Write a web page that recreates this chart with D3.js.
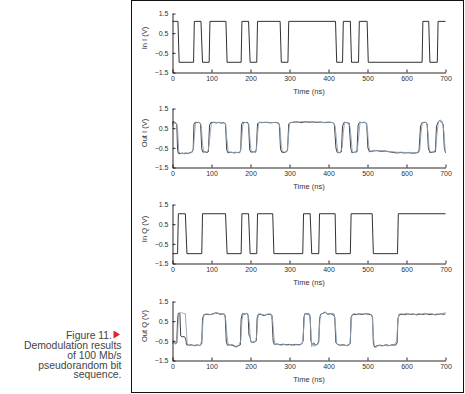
<!DOCTYPE html>
<html><head><meta charset="utf-8">
<script src="https://cdn.jsdelivr.net/npm/d3@7"></script>
<style>body{margin:0;background:#fff}</style>
</head><body>
<svg id="c" width="465" height="394"></svg>
<script>
// ---------- DATA ----------
const xTicks = [0, 100, 200, 300, 400, 500, 600, 700];
const yTicks = [-1.5, -0.5, 0.5, 1.5];
const yLabels = ["In I (V)", "Out I (V)", "In Q (V)", "Out Q (V)"];
const xLabel = "Time (ns)";
const captionLines = ["Figure 11.", "Demodulation results", "of 100 Mb/s", "pseudorandom bit", "sequence."];

const inI = [[0,1.1],[14,1.1],[17,-0.98],[54,-0.98],[56,1.1],[73,1.1],[77,-0.98],[94,-0.98],[96,1.1],[137,1.1],[140,-0.98],[176,-0.98],[178,1.1],[195,1.1],[199,-0.98],[216,-0.98],[218,1.1],[276,1.1],[279,-0.98],[296,-0.98],[298,1.1],[418,1.1],[421,-0.98],[436,-0.98],[438,1.1],[456,1.1],[459,-0.98],[477,-0.98],[479,1.1],[499,1.1],[502,-0.98],[640,-0.98],[642,1.1],[657,1.1],[660,-0.98],[679,-0.98],[681,1.1],[700,1.1]];

const outIDark = [[0,0.72],[2,0.85],[4,0.78],[8,0.75],[11,0.7],[13,-0.6],[15,-0.78],[20,-0.8],[25,-0.76],[30,-0.8],[35,-0.77],[40,-0.79],[45,-0.74],[50,-0.72],[53,-0.6],[55,0.7],[58,0.8],[63,0.78],[68,0.8],[72,0.72],[75,-0.55],[78,-0.72],[83,-0.7],[88,-0.74],[92,-0.7],[95,0.65],[98,0.78],[105,0.8],[112,0.77],[118,0.79],[125,0.76],[132,0.78],[136,0.7],[139,-0.6],[142,-0.75],[150,-0.72],[158,-0.76],[165,-0.73],[172,-0.75],[175,-0.6],[177,0.7],[180,0.8],[186,0.78],[192,0.8],[195,0.7],[198,-0.6],[201,-0.72],[207,-0.7],[213,-0.72],[215,-0.55],[218,0.72],[222,0.8],[230,0.78],[240,0.8],[250,0.77],[260,0.79],[268,0.78],[274,0.7],[277,-0.55],[280,-0.72],[286,-0.74],[292,-0.7],[295,-0.6],[298,0.72],[302,0.78],[310,0.8],[320,0.82],[330,0.78],[340,0.83],[350,0.8],[360,0.82],[370,0.79],[380,0.81],[390,0.78],[400,0.8],[410,0.79],[415,0.72],[419,-0.5],[422,-0.72],[428,-0.75],[433,-0.7],[436,0.6],[440,0.8],[447,0.78],[453,0.75],[457,-0.5],[460,-0.75],[467,-0.72],[473,-0.7],[476,0.65],[480,0.8],[487,0.78],[494,0.8],[498,0.7],[501,-0.5],[505,-0.7],[515,-0.66],[525,-0.64],[535,-0.68],[545,-0.66],[555,-0.7],[565,-0.73],[575,-0.76],[585,-0.74],[595,-0.76],[605,-0.75],[615,-0.77],[625,-0.76],[632,-0.7],[636,0.6],[640,0.78],[648,0.8],[653,0.72],[656,-0.5],[660,-0.75],[667,-0.72],[674,-0.7],[677,0.6],[681,0.8],[685,0.9],[690,0.8],[694,0.7],[697,-0.5],[700,-0.75]];

const outILight = [[0,0.55],[2,0.8],[6,0.82],[10,0.76],[13,0.5],[16,-0.7],[20,-0.78],[27,-0.8],[33,-0.75],[38,-0.78],[44,-0.76],[50,-0.74],[54,-0.5],[57,0.3],[59,0.75],[64,0.8],[70,0.78],[74,0.6],[77,-0.3],[80,-0.7],[86,-0.72],[91,-0.68],[94,-0.3],[97,0.3],[100,0.75],[107,0.8],[115,0.78],[122,0.8],[130,0.77],[136,0.75],[139,0.0],[143,-0.7],[152,-0.74],[160,-0.72],[168,-0.75],[174,-0.7],[177,-0.2],[180,0.6],[183,0.8],[190,0.78],[195,0.72],[198,0.1],[201,-0.6],[204,-0.72],[210,-0.7],[215,-0.65],[218,0.2],[221,0.78],[228,0.8],[236,0.79],[245,0.8],[255,0.78],[265,0.8],[272,0.78],[276,0.5],[279,-0.4],[282,-0.7],[289,-0.72],[294,-0.68],[297,0.0],[300,0.75],[306,0.8],[314,0.82],[322,0.79],[332,0.84],[342,0.8],[352,0.83],[362,0.8],[372,0.82],[382,0.78],[392,0.8],[402,0.81],[412,0.78],[417,0.6],[421,-0.2],[424,-0.72],[430,-0.74],[435,-0.5],[438,0.3],[441,0.78],[448,0.8],[455,0.6],[458,0.0],[461,-0.72],[468,-0.74],[474,-0.6],[478,0.2],[481,0.78],[488,0.8],[496,0.78],[500,0.4],[503,-0.4],[507,-0.68],[517,-0.62],[527,-0.66],[537,-0.64],[547,-0.66],[557,-0.7],[567,-0.7],[577,-0.73],[587,-0.72],[597,-0.74],[607,-0.73],[617,-0.75],[627,-0.74],[634,-0.6],[637,0.2],[640,0.75],[646,0.8],[652,0.78],[655,0.3],[658,-0.5],[661,-0.72],[668,-0.7],[675,-0.6],[678,0.2],[682,0.85],[687,0.92],[692,0.82],[696,0.3],[699,-0.6],[700,-0.7]];

const inQ = [[0,-1],[13,-1],[15,1.03],[33,1.03],[37,-1],[75,-1],[77,1.03],[136,1.03],[140,-1],[176,-1],[178,1.03],[195,1.03],[199,-1],[216,-1],[218,1.03],[257,1.03],[260,-1],[334,-1],[336,1.03],[353,1.03],[357,-1],[375,-1],[377,1.03],[417,1.03],[419,-1],[456,-1],[458,1.03],[512,1.03],[515,-1],[577,-1],[579,1.03],[700,1.03]];

const outQDark = [[0,-0.62],[4,-0.58],[8,-0.65],[11,-0.6],[13,0.6],[15,0.9],[19,0.88],[21,-0.25],[25,-0.3],[30,-0.28],[34,-0.4],[36,-0.7],[42,-0.72],[48,-0.7],[55,-0.74],[62,-0.71],[70,-0.73],[75,-0.65],[77,0.6],[80,0.82],[87,0.85],[95,0.83],[103,0.86],[110,0.92],[116,0.9],[122,0.85],[130,0.87],[135,0.8],[138,-0.55],[141,-0.72],[148,-0.7],[155,-0.74],[162,-0.8],[168,-0.75],[174,-0.7],[176,0.6],[179,0.88],[185,0.85],[190,0.9],[194,0.8],[196,-0.2],[199,-0.3],[201,-0.55],[205,-0.58],[211,-0.55],[215,-0.5],[217,0.65],[220,0.85],[228,0.83],[235,0.78],[242,0.84],[250,0.85],[255,0.8],[258,-0.5],[261,-0.68],[268,-0.66],[276,-0.7],[284,-0.67],[292,-0.7],[300,-0.68],[308,-0.71],[316,-0.68],[324,-0.7],[331,-0.66],[335,-0.5],[337,0.7],[340,0.9],[345,0.85],[350,0.88],[353,0.7],[355,-0.5],[358,-0.7],[362,-0.6],[366,-0.72],[371,-0.68],[375,-0.55],[377,0.6],[380,0.85],[386,0.9],[392,0.95],[398,0.85],[405,0.88],[412,0.84],[416,0.7],[419,-0.6],[423,-0.68],[430,-0.72],[438,-0.7],[446,-0.74],[453,-0.7],[456,-0.6],[458,0.7],[462,0.85],[470,0.83],[478,0.87],[486,0.84],[494,0.88],[502,0.85],[509,0.83],[513,0.7],[515,-0.6],[518,-0.82],[524,-0.75],[532,-0.72],[540,-0.75],[548,-0.7],[556,-0.74],[564,-0.7],[572,-0.72],[576,-0.6],[578,0.6],[581,0.82],[588,0.85],[595,0.83],[603,0.87],[610,0.84],[618,0.86],[626,0.82],[634,0.86],[642,0.84],[650,0.88],[658,0.83],[666,0.86],[674,0.82],[682,0.85],[690,0.87],[696,0.84],[700,0.9]];

const outQLight = [[0,-0.55],[5,-0.6],[10,-0.55],[13,-0.3],[15,0.7],[18,0.95],[23,0.92],[28,0.9],[33,0.88],[35,0.2],[38,-0.7],[44,-0.74],[50,-0.72],[57,-0.76],[64,-0.73],[71,-0.75],[76,-0.4],[78,0.5],[81,0.85],[89,0.87],[97,0.84],[105,0.88],[112,0.95],[118,0.9],[125,0.87],[133,0.88],[137,0.5],[140,-0.3],[143,-0.7],[150,-0.68],[158,-0.72],[164,-0.82],[170,-0.74],[175,-0.5],[178,0.5],[181,0.9],[187,0.88],[193,0.9],[197,0.4],[200,-0.5],[203,-0.6],[208,-0.52],[213,-0.55],[216,-0.2],[219,0.7],[222,0.88],[230,0.85],[237,0.8],[244,0.86],[252,0.87],[257,0.5],[260,-0.3],[263,-0.7],[270,-0.68],[278,-0.72],[286,-0.69],[294,-0.72],[302,-0.7],[310,-0.73],[318,-0.7],[326,-0.72],[333,-0.62],[336,0.0],[339,0.85],[343,0.9],[348,0.87],[352,0.84],[355,0.0],[357,-0.8],[360,-0.62],[363,-0.78],[368,-0.7],[373,-0.68],[376,0.0],[379,0.8],[384,0.88],[390,0.97],[396,0.9],[402,0.86],[409,0.9],[415,0.86],[418,0.2],[421,-0.65],[427,-0.7],[434,-0.74],[442,-0.72],[450,-0.76],[455,-0.65],[457,0.0],[460,0.82],[466,0.88],[474,0.85],[482,0.89],[490,0.86],[498,0.9],[506,0.87],[512,0.8],[514,0.0],[517,-0.7],[521,-0.85],[528,-0.73],[536,-0.76],[544,-0.72],[552,-0.76],[560,-0.72],[568,-0.74],[575,-0.5],[577,0.2],[580,0.85],[585,0.88],[592,0.86],[600,0.9],[607,0.85],[615,0.88],[622,0.84],[630,0.88],[638,0.85],[646,0.9],[654,0.86],[662,0.89],[670,0.84],[678,0.87],[686,0.85],[693,0.9],[700,0.92]];

// ---------- LAYOUT ----------
const svg = d3.select("#c");
svg.append("rect").attr("width",465).attr("height",394).attr("fill","#fff");
svg.append("rect").attr("x",131.5).attr("y",0.5).attr("width",332).attr("height",392)
  .attr("fill","none").attr("stroke","#111").attr("stroke-width",1);

const x = d3.scaleLinear().domain([0,700]).range([172.5,445.5]);
const panelTops = [13.5, 108.5, 204.5, 301.5];
const panelH = 59;
const panelSeries = [
  [{d:inI, c:"#1a1a1a"}],
  [{d:outIDark, c:"#2a2a2a"}, {d:outILight, c:"#8fa3b8"}],
  [{d:inQ, c:"#1a1a1a"}],
  [{d:outQDark, c:"#2a2a2a"}, {d:outQLight, c:"#8fa3b8"}]
];
const font = "'Liberation Sans', Arial, sans-serif";

panelTops.forEach((top,i)=>{
  const y = d3.scaleLinear().domain([-1.5,1.5]).range([top+panelH, top]);
  const g = svg.append("g");
  const line = d3.line().x(p=>x(p[0])).y(p=>y(p[1]));
  panelSeries[i].forEach(s=>{
    g.append("path").datum(s.d).attr("d",line).attr("fill","none")
      .attr("stroke",s.c).attr("stroke-width",0.9).attr("stroke-linejoin","round");
  });
  const ax = g.append("g").attr("transform",`translate(0,${top+panelH})`)
    .call(d3.axisBottom(x).tickValues(xTicks).tickFormat(d3.format("d")).tickSizeInner(-3).tickSizeOuter(0).tickPadding(3.5));
  const ay = g.append("g").attr("transform",`translate(${x(0)},0)`)
    .call(d3.axisLeft(y).tickValues(yTicks).tickFormat(d=>d3.format(".1f")(d).replace("-","\u2212")).tickSizeInner(-3).tickSizeOuter(0).tickPadding(4));
  [ax,ay].forEach(a=>{
    a.selectAll("path,line").attr("stroke","#111").attr("stroke-width",0.9);
    a.selectAll("text").attr("font-family",font).attr("font-size",7).attr("fill","#333");
  });
  g.append("text").attr("x",(x(0)+x(700))/2).attr("y",top+panelH+21.5)
    .attr("text-anchor","middle").attr("font-family",font).attr("font-size",7.5).attr("fill","#333").text(xLabel);
  g.append("text").attr("transform",`translate(147,${top+panelH/2-5}) rotate(-90)`)
    .attr("text-anchor","middle").attr("font-family",font).attr("font-size",7.5).attr("fill","#333").text(yLabels[i]);
});

// ---------- CAPTION ----------
const capY = [338.5, 349, 359, 368.5, 378];
captionLines.forEach((t,i)=>{
  svg.append("text").attr("x", i===0 ? 112 : 121.5).attr("y",capY[i])
    .attr("text-anchor","end").attr("font-family",font).attr("font-size",10.4)
    .attr("fill","#444").text(t);
});
svg.append("path").attr("d","M113.5,330.5 L120,334.5 L113.5,338.5 Z").attr("fill","#e0202a");
</script>
</body></html>
